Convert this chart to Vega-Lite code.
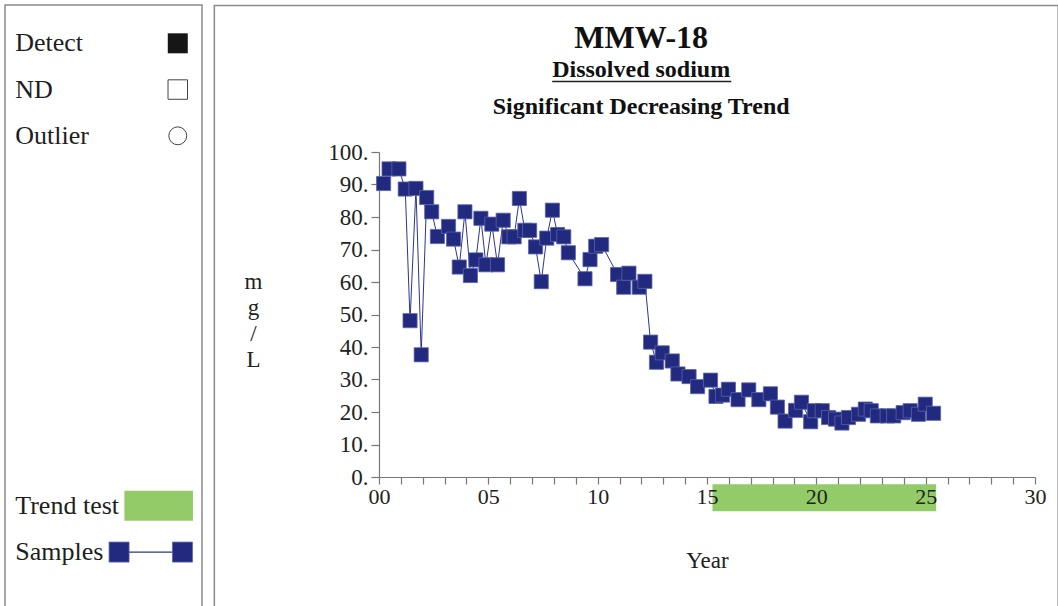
{
  "$schema": "https://vega.github.io/schema/vega-lite/v6.json",
  "padding": {"left": 4, "top": 4, "right": 0, "bottom": 0},
  "background": "white",
  "config": {
    "font": "Liberation Serif",
    "view": {"stroke": null},
    "concat": {"spacing": 10},
    "axis": {"labelFont": "Liberation Serif", "titleFont": "Liberation Serif", "grid": false}
  },
  "datasets": {
    "legend": [
      {"label": "Detect", "row": 0},
      {"label": "ND", "row": 1},
      {"label": "Outlier", "row": 2},
      {"label": "Trend test", "row": 10},
      {"label": "Samples", "row": 11}
    ],
    "trend": [{"start": 15.25, "end": 25.48}],
    "samples": [
      {"year": 0.21, "value": 90.3}, {"year": 0.46, "value": 94.8}, {"year": 0.91, "value": 94.8},
      {"year": 1.2, "value": 88.6}, {"year": 1.42, "value": 48.1}, {"year": 1.69, "value": 88.8},
      {"year": 1.93, "value": 37.6}, {"year": 2.18, "value": 86.0}, {"year": 2.41, "value": 81.6},
      {"year": 2.67, "value": 74.0}, {"year": 3.18, "value": 77.1}, {"year": 3.41, "value": 73.2},
      {"year": 3.67, "value": 64.6}, {"year": 3.93, "value": 81.6}, {"year": 4.18, "value": 62.0},
      {"year": 4.43, "value": 66.8}, {"year": 4.66, "value": 79.6}, {"year": 4.89, "value": 65.3},
      {"year": 5.16, "value": 77.8}, {"year": 5.42, "value": 65.3}, {"year": 5.68, "value": 79.0},
      {"year": 5.94, "value": 73.9}, {"year": 6.18, "value": 73.9}, {"year": 6.42, "value": 85.7},
      {"year": 6.67, "value": 75.9}, {"year": 6.89, "value": 75.9}, {"year": 7.16, "value": 70.8},
      {"year": 7.42, "value": 60.1}, {"year": 7.67, "value": 73.5}, {"year": 7.93, "value": 82.1},
      {"year": 8.17, "value": 74.6}, {"year": 8.45, "value": 73.9}, {"year": 8.66, "value": 69.0},
      {"year": 9.42, "value": 61.0}, {"year": 9.65, "value": 66.9}, {"year": 9.91, "value": 71.0},
      {"year": 10.18, "value": 71.5}, {"year": 10.91, "value": 62.3}, {"year": 11.19, "value": 58.4},
      {"year": 11.43, "value": 62.7}, {"year": 11.9, "value": 58.4}, {"year": 12.16, "value": 60.2},
      {"year": 12.42, "value": 41.5}, {"year": 12.69, "value": 35.3}, {"year": 12.95, "value": 38.2},
      {"year": 13.41, "value": 35.7}, {"year": 13.67, "value": 31.7}, {"year": 14.18, "value": 30.9},
      {"year": 14.57, "value": 27.8}, {"year": 15.16, "value": 29.8}, {"year": 15.41, "value": 24.8},
      {"year": 15.71, "value": 25.2}, {"year": 15.98, "value": 27.0}, {"year": 16.42, "value": 23.8},
      {"year": 16.91, "value": 26.8}, {"year": 17.37, "value": 23.8}, {"year": 17.9, "value": 25.6},
      {"year": 18.22, "value": 21.5}, {"year": 18.57, "value": 17.2}, {"year": 19.05, "value": 20.5},
      {"year": 19.32, "value": 23.0}, {"year": 19.74, "value": 17.0}, {"year": 19.91, "value": 20.4},
      {"year": 20.27, "value": 20.4}, {"year": 20.56, "value": 18.3}, {"year": 20.88, "value": 17.8},
      {"year": 21.17, "value": 16.6}, {"year": 21.47, "value": 18.3}, {"year": 21.93, "value": 19.3},
      {"year": 22.24, "value": 20.9}, {"year": 22.51, "value": 20.4}, {"year": 22.79, "value": 18.8},
      {"year": 23.24, "value": 18.8}, {"year": 23.54, "value": 18.8}, {"year": 23.97, "value": 19.8},
      {"year": 24.29, "value": 20.4}, {"year": 24.67, "value": 19.3}, {"year": 24.98, "value": 22.4},
      {"year": 25.36, "value": 19.6}
    ]
  },
  "hconcat": [
    {
      "width": 197,
      "height": 325,
      "data": {"name": "legend"},
      "layer": [
        {
          "data": {"values": [{}]},
          "mark": {"type": "rect", "filled": false, "color": "#8a8a8a", "strokeWidth": 1.5},
          "encoding": {
            "x": {"datum": 0, "type": "quantitative", "scale": {"domain": [0, 100]}, "axis": null},
            "x2": {"datum": 100},
            "y": {"datum": -0.828, "type": "quantitative", "scale": {"domain": [2.35, 9.377], "reverse": true}, "axis": null},
            "y2": {"datum": 12.48}
          }
        },
        {
          "mark": {"type": "text", "align": "left", "baseline": "middle", "fontSize": 26, "color": "#1e1e1e"},
          "encoding": {
            "x": {"datum": 5.2, "type": "quantitative", "scale": {"domain": [0, 100]}},
            "y": {"field": "row", "type": "quantitative", "scale": {"domain": [2.35, 9.377], "reverse": true}},
            "text": {"field": "label"}
          }
        },
        {
          "transform": [{"filter": "datum.label == 'Detect'"}],
          "mark": {"type": "point", "shape": "square", "filled": true, "color": "#161616", "size": 400, "opacity": 1},
          "encoding": {
            "x": {"datum": 87.7, "type": "quantitative", "scale": {"domain": [0, 100]}},
            "y": {"field": "row", "type": "quantitative", "scale": {"domain": [2.35, 9.377], "reverse": true}}
          }
        },
        {
          "transform": [{"filter": "datum.label == 'ND'"}],
          "mark": {"type": "point", "shape": "square", "filled": false, "color": "#444444", "strokeWidth": 1, "size": 380, "opacity": 1},
          "encoding": {
            "x": {"datum": 87.7, "type": "quantitative", "scale": {"domain": [0, 100]}},
            "y": {"field": "row", "type": "quantitative", "scale": {"domain": [2.35, 9.377], "reverse": true}}
          }
        },
        {
          "transform": [{"filter": "datum.label == 'Outlier'"}],
          "mark": {"type": "point", "shape": "circle", "filled": false, "color": "#444444", "strokeWidth": 1, "size": 320, "opacity": 1},
          "encoding": {
            "x": {"datum": 87.7, "type": "quantitative", "scale": {"domain": [0, 100]}},
            "y": {"field": "row", "type": "quantitative", "scale": {"domain": [2.35, 9.377], "reverse": true}}
          }
        },
        {
          "transform": [{"filter": "datum.label == 'Trend test'"}],
          "mark": {"type": "rect", "color": "#93cb68", "height": 30},
          "encoding": {
            "x": {"datum": 60.6, "type": "quantitative", "scale": {"domain": [0, 100]}},
            "x2": {"datum": 95.4},
            "y": {"field": "row", "type": "quantitative", "scale": {"domain": [2.35, 9.377], "reverse": true}}
          }
        },
        {
          "transform": [{"filter": "datum.label == 'Samples'"}],
          "mark": {"type": "rule", "color": "#2c3590", "strokeWidth": 1.2},
          "encoding": {
            "x": {"datum": 57.9, "type": "quantitative", "scale": {"domain": [0, 100]}},
            "x2": {"datum": 90.1},
            "y": {"field": "row", "type": "quantitative", "scale": {"domain": [2.35, 9.377], "reverse": true}}
          }
        },
        {
          "transform": [{"filter": "datum.label == 'Samples'"}],
          "mark": {"type": "point", "shape": "square", "filled": true, "color": "#212a7e", "stroke": "#5a63ab", "strokeWidth": 0.8, "size": 400, "opacity": 1},
          "encoding": {
            "x": {"datum": 57.9, "type": "quantitative", "scale": {"domain": [0, 100]}},
            "y": {"field": "row", "type": "quantitative", "scale": {"domain": [2.35, 9.377], "reverse": true}}
          }
        },
        {
          "transform": [{"filter": "datum.label == 'Samples'"}],
          "mark": {"type": "point", "shape": "square", "filled": true, "color": "#212a7e", "stroke": "#5a63ab", "strokeWidth": 0.8, "size": 400, "opacity": 1},
          "encoding": {
            "x": {"datum": 90.1, "type": "quantitative", "scale": {"domain": [0, 100]}},
            "y": {"field": "row", "type": "quantitative", "scale": {"domain": [2.35, 9.377], "reverse": true}}
          }
        }
      ]
    },
    {
      "width": 656,
      "height": 325,
      "layer": [
        {
          "data": {"values": [{}]},
          "mark": {"type": "rect", "filled": false, "color": "#8a8a8a", "strokeWidth": 1.5},
          "encoding": {
            "x": {"datum": -7.53, "type": "quantitative", "scale": {"domain": [0, 30], "nice": false, "zero": false}},
            "x2": {"datum": 31.06},
            "y": {"datum": -45, "type": "quantitative", "scale": {"domain": [0, 100], "nice": false, "zero": false}},
            "y2": {"datum": 145.1}
          }
        },
        {
          "data": {"values": [{"title": "MMW-18"}]},
          "mark": {"type": "text", "align": "center", "baseline": "alphabetic", "fontSize": 32, "fontWeight": "bold", "color": "#111111"},
          "encoding": {
            "x": {"datum": 11.99, "type": "quantitative", "scale": {"domain": [0, 30], "nice": false, "zero": false}},
            "y": {"datum": 132.06, "type": "quantitative", "scale": {"domain": [0, 100], "nice": false, "zero": false}},
            "text": {"field": "title"}
          }
        },
        {
          "data": {"values": [{"title": "Dissolved sodium"}]},
          "mark": {"type": "text", "align": "center", "baseline": "alphabetic", "fontSize": 24, "fontWeight": "bold", "color": "#111111"},
          "encoding": {
            "x": {"datum": 11.99, "type": "quantitative", "scale": {"domain": [0, 30], "nice": false, "zero": false}},
            "y": {"datum": 122.98, "type": "quantitative", "scale": {"domain": [0, 100], "nice": false, "zero": false}},
            "text": {"field": "title"}
          }
        },
        {
          "data": {"values": [{"title": "Significant Decreasing Trend"}]},
          "mark": {"type": "text", "align": "center", "baseline": "alphabetic", "fontSize": 24, "fontWeight": "bold", "color": "#111111"},
          "encoding": {
            "x": {"datum": 11.99, "type": "quantitative", "scale": {"domain": [0, 30], "nice": false, "zero": false}},
            "y": {"datum": 111.6, "type": "quantitative", "scale": {"domain": [0, 100], "nice": false, "zero": false}},
            "text": {"field": "title"}
          }
        },
        {
          "data": {"values": [{}]},
          "mark": {"type": "rule", "color": "#222222", "strokeWidth": 1.5},
          "encoding": {
            "x": {"datum": 7.92, "type": "quantitative", "scale": {"domain": [0, 30], "nice": false, "zero": false}},
            "x2": {"datum": 16.11},
            "y": {"datum": 121.7, "type": "quantitative", "scale": {"domain": [0, 100], "nice": false, "zero": false}}
          }
        },
        {
          "data": {"name": "trend"},
          "mark": {"type": "rect", "color": "#93cb68"},
          "encoding": {
            "x": {"field": "start", "type": "quantitative", "scale": {"domain": [0, 30], "nice": false, "zero": false}},
            "x2": {"field": "end"},
            "y": {"datum": -2.25, "type": "quantitative", "scale": {"domain": [0, 100], "nice": false, "zero": false}},
            "y2": {"datum": -10.55}
          }
        },
        {
          "data": {"name": "samples"},
          "mark": {"type": "line", "color": "#2c3590", "strokeWidth": 1},
          "encoding": {
            "x": {
              "field": "year", "type": "quantitative",
              "scale": {"domain": [0, 30], "nice": false, "zero": false},
              "axis": {
                "values": [0,1,2,3,4,5,6,7,8,9,10,11,12,13,14,15,16,17,18,19,20,21,22,23,24,25,26,27,28,29,30],
                "tickCount": 31,
                "labelExpr": "datum.value % 5 == 0 ? (datum.value < 10 ? '0' + datum.value : '' + datum.value) : ''",
                "labelFlush": false, "labelOverlap": false,
                "tickSize": 7, "tickColor": "#777777", "domainColor": "#777777", "domainWidth": 1.2, "tickWidth": 1.2,
                "labelFontSize": 22, "labelColor": "#222222", "labelPadding": 2,
                "title": "Year", "titleFontSize": 23, "titleFontWeight": "normal", "titleColor": "#222222",
                "titleY": 90, "titleBaseline": "alphabetic",
                "zindex": 1
              }
            },
            "y": {
              "field": "value", "type": "quantitative",
              "scale": {"domain": [0, 100], "nice": false, "zero": false},
              "axis": {
                "values": [0,10,20,30,40,50,60,70,80,90,100],
                "tickCount": 11,
                "labelExpr": "datum.value + '.'",
                "labelOverlap": false,
                "tickSize": 8, "tickColor": "#777777", "domainColor": "#777777", "domainWidth": 1.2, "tickWidth": 1.2,
                "labelFontSize": 23, "labelColor": "#222222", "labelPadding": 3,
                "title": ["m", "g", "/", "L"], "titleAngle": 0, "titleFontSize": 23, "titleFontWeight": "normal",
                "titleColor": "#222222", "titleLineHeight": 26, "titleAlign": "center", "titleBaseline": "alphabetic",
                "titleX": -126, "titleY": 136
              }
            }
          }
        },
        {
          "data": {"name": "samples"},
          "mark": {"type": "point", "shape": "square", "filled": true, "color": "#212a7e", "stroke": "#5a63ab", "strokeWidth": 0.8, "size": 200, "opacity": 1},
          "encoding": {
            "x": {"field": "year", "type": "quantitative", "scale": {"domain": [0, 30], "nice": false, "zero": false}},
            "y": {"field": "value", "type": "quantitative", "scale": {"domain": [0, 100], "nice": false, "zero": false}}
          }
        }
      ]
    }
  ]
}
